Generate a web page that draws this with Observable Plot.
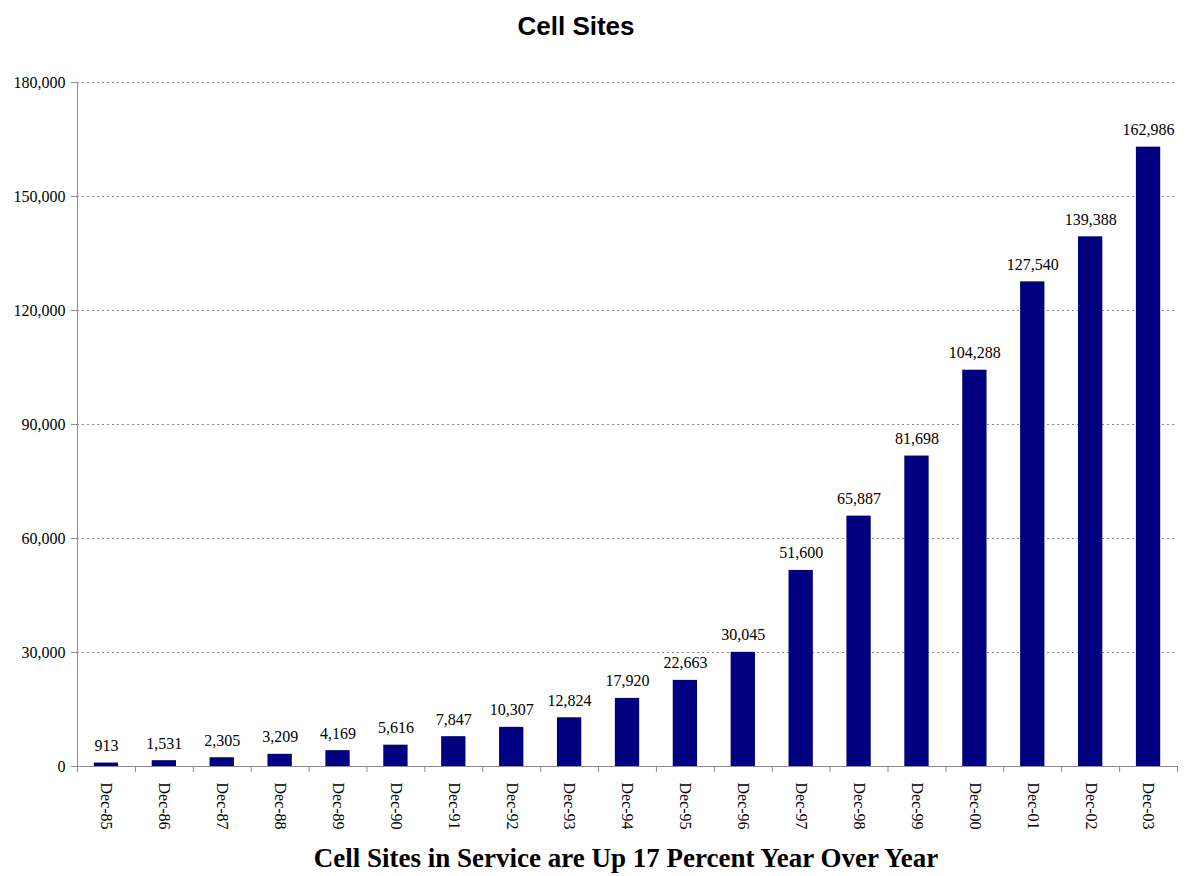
<!DOCTYPE html>
<html>
<head>
<meta charset="utf-8">
<script src="https://cdn.jsdelivr.net/npm/d3@7"></script>
<script src="https://cdn.jsdelivr.net/npm/@observablehq/plot@0.6"></script>
<style>
  body { margin: 0; background: #fff; }
  #wrap { position: relative; width: 1189px; height: 876px; }
  #title { position: absolute; left: 576px; top: 11px; transform: translateX(-50%);
    font: bold 26px "Liberation Sans", Arial, sans-serif; line-height: 30px; white-space: nowrap; color: #000; }
  #chart { position: absolute; left: 0; top: 50px; }
  #caption { position: absolute; left: 626px; top: 843px; transform: translateX(-50%);
    font: bold 27px "Liberation Serif", "Times New Roman", serif; line-height: 31px; white-space: nowrap; color: #000; }
</style>
</head>
<body>
<div id="wrap">
  <div id="title">Cell Sites</div>
  <div id="chart"></div>
  <div id="caption">Cell Sites in Service are Up 17 Percent Year Over Year</div>
</div>
<script>
// Cell sites in service, year-end counts
const periods = ["Dec-85","Dec-86","Dec-87","Dec-88","Dec-89","Dec-90","Dec-91","Dec-92","Dec-93","Dec-94",
                 "Dec-95","Dec-96","Dec-97","Dec-98","Dec-99","Dec-00","Dec-01","Dec-02","Dec-03"];
const sites = [913, 1531, 2305, 3209, 4169, 5616, 7847, 10307, 12824, 17920,
               22663, 30045, 51600, 65887, 81698, 104288, 127540, 139388, 162986];
const yTicks = [0, 30000, 60000, 90000, 120000, 150000, 180000];

const data = periods.map((p, i) => ({period: p, sites: sites[i]}));
const fmt = d3.format(",");

const W = 1189, H = 790;
const mL = 77, mR = 12, mT = 32, mB = 74;
const step = (W - mL - mR) / periods.length;
const serif = "Liberation Serif, Times New Roman, serif";
const gray = "#8c8c8c";

const chart = Plot.plot({
  width: W,
  height: H,
  marginLeft: mL,
  marginRight: mR,
  marginTop: mT,
  marginBottom: mB,
  style: {fontFamily: serif, fontSize: "16px", color: "#000", background: "#fff"},
  x: {domain: periods, paddingInner: 0.58, paddingOuter: 0.29, round: false},
  y: {domain: [0, 180000]},
  marks: [
    Plot.gridY(yTicks, {stroke: gray, strokeOpacity: 1, strokeDasharray: "2,3"}),
    Plot.barY(data, {x: "period", y: "sites", fill: "#000080"}),
    Plot.text(data, {x: "period", y: "sites", text: d => fmt(d.sites), lineAnchor: "bottom", dy: -12,
      fontSize: 16, fill: "#000"}),
    Plot.frame({anchor: "left", stroke: gray}),
    Plot.ruleY([0], {stroke: gray}),
    // category separators below the baseline
    Plot.ruleX(periods, {x: d => d, y1: 0, y2: 0, insetBottom: -6, dx: -step / 2, stroke: gray}),
    Plot.ruleX(periods.slice(-1), {x: d => d, y1: 0, y2: 0, insetBottom: -6, dx: step / 2, stroke: gray}),
    Plot.axisY(yTicks, {tickFormat: fmt, tickSize: 6, tickPadding: 6, stroke: gray, fontSize: 16, label: null}),
    Plot.axisX({tickSize: 0, tickRotate: 90, tickPadding: 16, fontSize: 16, label: null})
  ]
});
document.getElementById("chart").appendChild(chart);
</script>
</body>
</html>
